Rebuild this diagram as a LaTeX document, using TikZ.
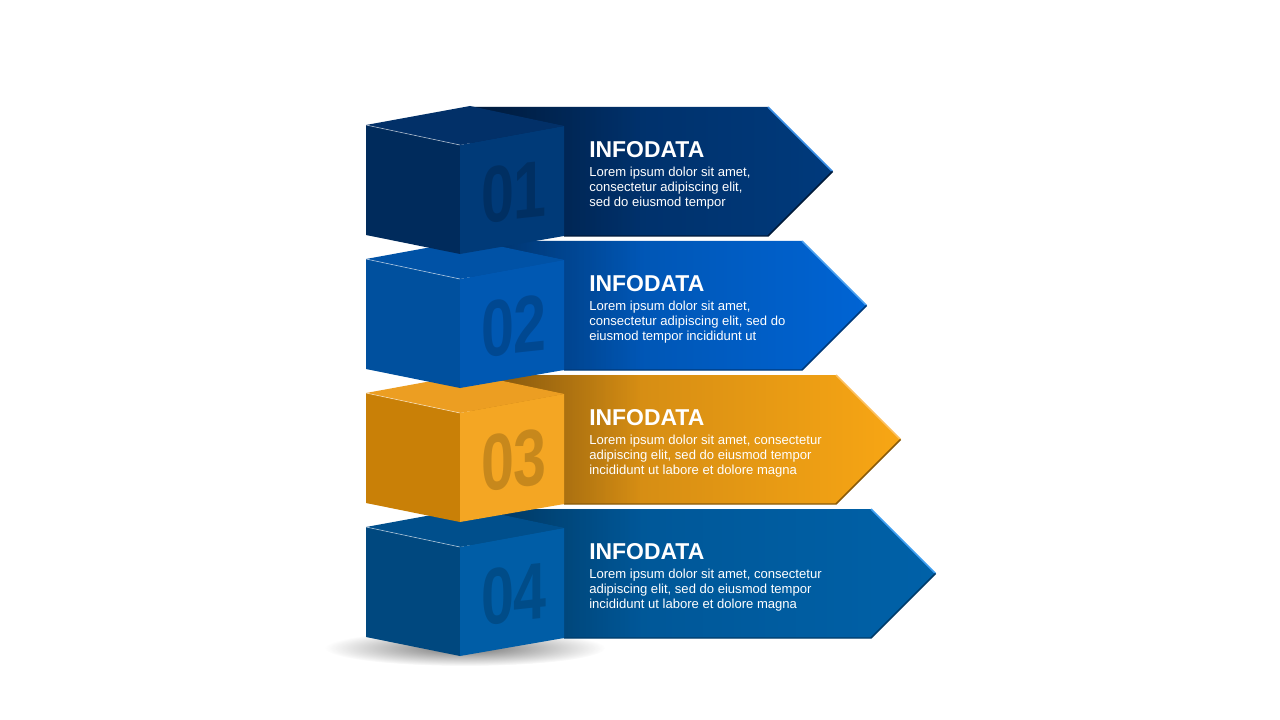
\documentclass[tikz,border=0pt]{standalone}
\usepackage{fontspec}
\setmainfont{Liberation Sans}
\usetikzlibrary{fadings}
\tikzfading[name=fadeR, left color=transparent!0, right color=transparent!100]
\tikzfading[name=softcirc, inner color=transparent!0, outer color=transparent!100]
% item colours
\definecolor{aL1}{HTML}{002A5E}\definecolor{aR1}{HTML}{003A7C}
\definecolor{cl1}{HTML}{002B5C}\definecolor{cr1}{HTML}{003A78}
\definecolor{ct1}{HTML}{023068}\definecolor{eh1}{HTML}{3A8EE6}\definecolor{ed1}{HTML}{001A3A}
\definecolor{aL2}{HTML}{004C9E}\definecolor{aR2}{HTML}{0064D4}
\definecolor{cl2}{HTML}{00509E}\definecolor{cr2}{HTML}{0058B2}
\definecolor{ct2}{HTML}{0052A6}\definecolor{eh2}{HTML}{4AA0F0}\definecolor{ed2}{HTML}{003A7A}
\definecolor{aL3}{HTML}{C07E14}\definecolor{aR3}{HTML}{F8A614}
\definecolor{cl3}{HTML}{C98007}\definecolor{cr3}{HTML}{F4A623}
\definecolor{ct3}{HTML}{EC9E22}\definecolor{eh3}{HTML}{FCC060}\definecolor{ed3}{HTML}{8A5A08}
\definecolor{aL4}{HTML}{00528F}\definecolor{aR4}{HTML}{0061A8}
\definecolor{cl4}{HTML}{00487F}\definecolor{cr4}{HTML}{005DA6}
\definecolor{ct4}{HTML}{004F8C}\definecolor{eh4}{HTML}{3E9EF0}\definecolor{ed4}{HTML}{003C6A}
\tikzset{
  infotitle/.style={anchor=base west, inner sep=0pt, text=white,
    font=\fontsize{17.2}{20}\selectfont\bfseries},
  infobody/.style={anchor=base west, inner sep=0pt, text=white, align=left,
    font=\fontsize{9.8}{11}\selectfont},
  numlabel/.style={inner sep=0pt, text=black, text opacity=0.18,
    font=\fontsize{60}{60}\selectfont\bfseries, xscale=0.74, yslant=0.08},
}
\newcommand\infoitem[5]{%
  \begin{scope}[shift={(0,#2)}]
    % arrow band
    \path[left color=aL#1, right color=aR#1]
      (470,107) -- (#3,107) -- ({#3+64.5},171.5) -- (#3,236) -- (470,236) -- cycle;
    \fill[black, opacity=0.36, path fading=fadeR]
      (470,107) -- (640,107) -- (640,236) -- (564,236) -- (564,126) -- cycle;
    \draw[eh#1, line width=1.1pt] (#3,107) -- ({#3+64.5},171.5);
    \draw[ed#1, line width=1.1pt] ({#3+64.5},171.5) -- (#3,236) -- (564,236);
    % cube
    \fill[cl#1] (366,125) -- (460,145) -- (460,254) -- (366,235) -- cycle;
    \fill[cr#1] (460,145) -- (564,126) -- (564,236) -- (460,254) -- cycle;
    \fill[ct#1] (366,125) -- (470,106) -- (564,126) -- (460,145) -- cycle;
    \draw[white, opacity=0.55, line width=0.5pt] (366,125) -- (460,145);
    \node[numlabel] (num#1) at (514,192) {#4};
    % texts
    \node[infotitle] (title#1) at (589,157.3) {INFODATA};
    \node[infobody] (body#1) at (589,206.1) {#5};
  \end{scope}}
\begin{document}
\begin{tikzpicture}[x=0.75pt, y=-0.75pt]
  \fill[white] (0,0) rectangle (1280,720);
  \useasboundingbox (0,0) rectangle (1280,720);
  % ground shadow
  \fill[black, opacity=0.55, path fading=softcirc]
    (465,648) ellipse [x radius=140, y radius=18];
  \infoitem{4}{402}{871}{04}{Lorem ipsum dolor sit amet, consectetur\\adipiscing elit, sed do eiusmod tempor\\incididunt ut labore et dolore magna}
  \infoitem{3}{268}{836}{03}{Lorem ipsum dolor sit amet, consectetur\\adipiscing elit, sed do eiusmod tempor\\incididunt ut labore et dolore magna}
  \infoitem{2}{134}{802}{02}{Lorem ipsum dolor sit amet,\\consectetur adipiscing elit, sed do\\eiusmod tempor incididunt ut}
  \infoitem{1}{0}{768}{01}{Lorem ipsum dolor sit amet,\\consectetur adipiscing elit,\\sed do eiusmod tempor}
\end{tikzpicture}
\end{document}
